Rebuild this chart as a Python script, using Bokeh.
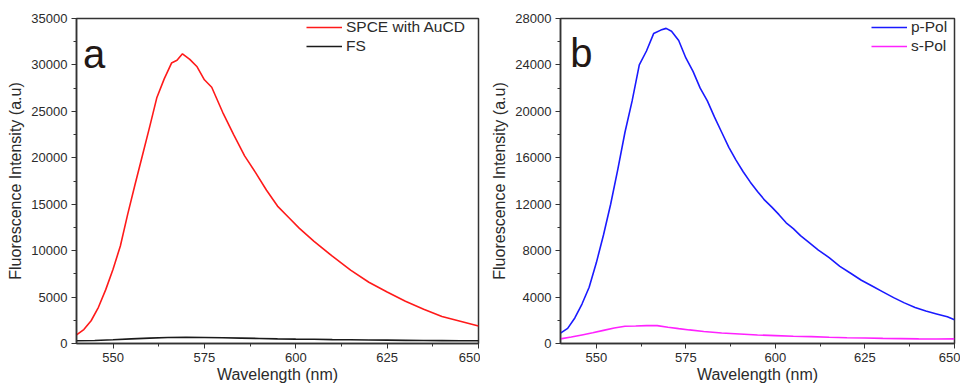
from bokeh.plotting import figure
from bokeh.layouts import row
from bokeh.models import Range1d, SingleIntervalTicker, Label
from bokeh.embed import file_html
from bokeh.resources import INLINE

# ---------------- data ----------------
spce_wl = [540, 542, 544, 546, 548, 550, 552, 554, 556, 558, 560, 562, 564, 566, 567.5,
           569, 571, 573, 575, 577, 580, 583, 586, 589, 592, 595, 598, 601, 605, 610,
           615, 620, 625, 630, 635, 640, 645, 650]
spce_int = [920, 1500, 2450, 3900, 5800, 8000, 10500, 13900, 17100, 20200, 23300, 26500,
            28500, 30200, 30500, 31200, 30600, 29800, 28400, 27600, 24900, 22500, 20200,
            18400, 16500, 14800, 13600, 12400, 11000, 9400, 7900, 6600, 5550, 4550, 3700,
            2900, 2400, 1880]

fs_wl = [540, 545, 550, 555, 560, 565, 570, 575, 580, 585, 590, 595, 600, 605, 610, 615,
         620, 625, 630, 635, 640, 645, 650]
fs_int = [300, 330, 400, 500, 580, 640, 680, 650, 620, 580, 540, 500, 470, 450, 420, 400,
          380, 360, 340, 320, 310, 300, 290]

ppol_wl = [540, 542, 544, 546, 548, 550, 552, 554, 556, 558, 560, 562, 564, 566, 568, 569.5,
           571, 573, 575, 577, 579, 581, 583, 585, 587, 589, 591, 593, 595, 597, 599, 601,
           603, 605, 607, 609, 612, 615, 618, 621, 624, 627, 630, 633, 636, 639, 642, 645,
           648, 650]
ppol_int = [890, 1300, 2200, 3400, 4850, 6950, 9350, 12000, 15000, 18200, 20900, 24000,
            25200, 26700, 27000, 27150, 26900, 26100, 24600, 23450, 22000, 20900, 19500,
            18200, 16900, 15800, 14800, 13900, 13100, 12350, 11750, 11100, 10400, 9900,
            9300, 8800, 8050, 7400, 6650, 6050, 5450, 4950, 4450, 3950, 3500, 3100, 2800,
            2550, 2300, 2050]

spol_wl = [540, 543, 546, 549, 552, 555, 558, 561, 564, 567, 570, 573, 576, 580, 585, 590,
           595, 600, 605, 610, 615, 620, 625, 630, 635, 640, 645, 650]
spol_int = [400, 560, 740, 920, 1130, 1330, 1490, 1510, 1540, 1540, 1400, 1280, 1170, 1040,
            900, 820, 730, 680, 630, 590, 540, 500, 470, 440, 420, 400, 390, 400]

x_label = "Wavelength (nm)"
y_label = "Fluorescence Intensity (a.u)"

FONT = "Liberation Sans"
TXT = "#2b2b2b"


def make_panel(width, ymax, ystep, mb_left, mb_right, mb_top, mb_bottom):
    p = figure(width=width, height=385, output_backend="svg", toolbar_location=None,
               x_range=Range1d(540, 650), y_range=Range1d(0, ymax),
               min_border_left=mb_left, min_border_right=mb_right,
               min_border_top=mb_top, min_border_bottom=mb_bottom)
    p.xgrid.visible = False
    p.ygrid.visible = False
    p.outline_line_color = "#333333"
    p.outline_line_width = 1.5
    p.background_fill_color = "white"
    p.border_fill_color = "white"
    p.xaxis.ticker = SingleIntervalTicker(interval=25, num_minor_ticks=2)
    p.yaxis.ticker = SingleIntervalTicker(interval=ystep, num_minor_ticks=2)
    for ax in (p.xaxis[0], p.yaxis[0]):
        ax.axis_line_color = "#333333"
        ax.axis_line_width = 1.5
        ax.major_tick_line_color = "#333333"
        ax.minor_tick_line_color = "#333333"
        ax.major_tick_in = 0
        ax.major_tick_out = 5
        ax.minor_tick_in = 0
        ax.minor_tick_out = 3
        ax.major_label_text_font = FONT
        ax.major_label_text_font_size = "13px"
        ax.major_label_text_color = TXT
        ax.major_label_standoff = 4
        ax.axis_label_text_font = FONT
        ax.axis_label_text_font_size = "16px"
        ax.axis_label_text_font_style = "normal"
        ax.axis_label_text_color = TXT
    p.xaxis.axis_label = x_label
    p.yaxis.axis_label = y_label
    p.xaxis.axis_label_standoff = 1
    p.yaxis.axis_label_standoff = 4
    return p


def style_legend(p, label_w):
    lg = p.legend[0]
    lg.location = "top_right"
    lg.border_line_color = None
    lg.background_fill_alpha = 0
    lg.label_text_font = FONT
    lg.label_text_font_size = "15.5px"
    lg.label_text_color = TXT
    lg.glyph_width = 36
    lg.glyph_height = 18
    lg.label_height = 18
    lg.label_width = label_w
    lg.spacing = 1
    lg.padding = 6
    lg.margin = 0
    lg.label_standoff = 4


# ---------------- panel a ----------------
p1 = make_panel(480, 35000, 5000, 76, 2, 17, 40)
p1.line(spce_wl, spce_int, color="#ff1a1a", line_width=1.6, legend_label="SPCE with AuCD")
p1.line(fs_wl, fs_int, color="#1a1a1a", line_width=1.6, legend_label="FS")
style_legend(p1, 132)
p1.add_layout(Label(x=541.8, y=31200, text="a", text_font=FONT, text_font_size="40px",
                    text_color="#231815", text_baseline="alphabetic"))

# ---------------- panel b ----------------
p2 = make_panel(480, 28000, 4000, 80, 6, 18, 38)
p2.line(ppol_wl, ppol_int, color="#1a1aff", line_width=1.6, legend_label="p-Pol")
p2.line(spol_wl, spol_int, color="#ff22ff", line_width=1.6, legend_label="s-Pol")
style_legend(p2, 43)
p2.add_layout(Label(x=542.7, y=25066, text="b", text_font=FONT, text_font_size="40px",
                    text_color="#231815", text_baseline="alphabetic"))

layout = row(p1, p2)
open("out.html", "w").write(file_html(layout, INLINE))
